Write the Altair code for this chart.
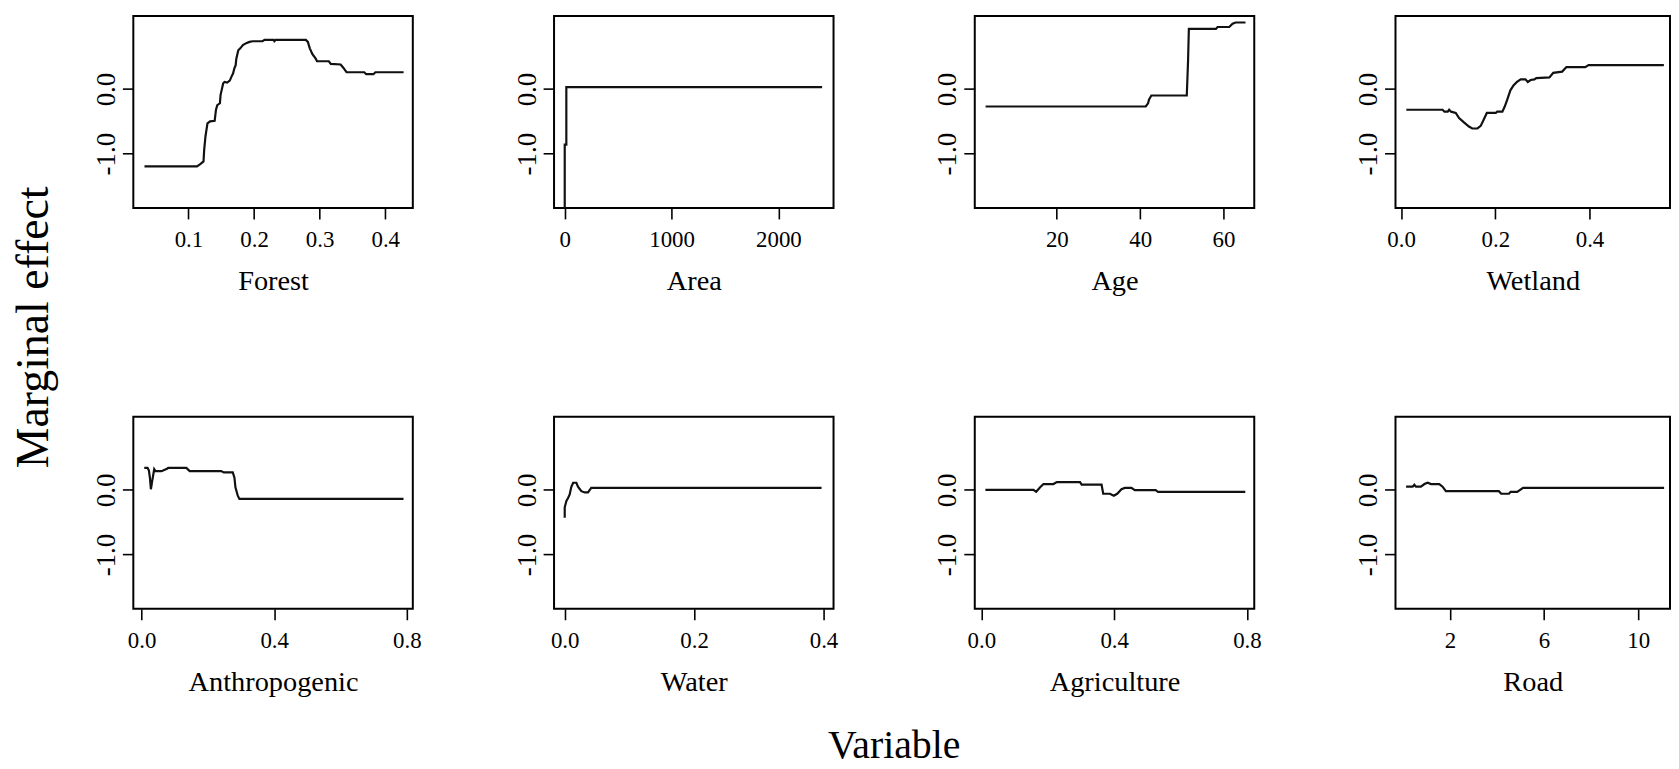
import altair as alt
import pandas as pd

FONT = "Liberation Serif"

# ---------------- data ----------------
forest_x = [0.033, 0.113, 0.118, 0.123, 0.124, 0.126, 0.129, 0.133, 0.140, 0.142, 0.144, 0.148, 0.149,
            0.153, 0.155, 0.159, 0.163, 0.166, 0.168, 0.170, 0.172, 0.173, 0.176, 0.179, 0.183, 0.188,
            0.193, 0.198, 0.213, 0.216, 0.230, 0.231, 0.233, 0.279, 0.282, 0.285, 0.289, 0.294, 0.296,
            0.314, 0.317, 0.332, 0.336, 0.341, 0.368, 0.371, 0.382, 0.385, 0.428]
forest_y = [-1.195, -1.195, -1.16, -1.12, -0.94, -0.73, -0.53, -0.50, -0.49, -0.32, -0.25, -0.22, -0.09,
            0.09, 0.11, 0.10, 0.13, 0.20, 0.24, 0.32, 0.37, 0.47, 0.60, 0.63, 0.68, 0.71,
            0.73, 0.74, 0.74, 0.76, 0.76, 0.74, 0.76, 0.76, 0.73, 0.63, 0.54, 0.47, 0.43,
            0.43, 0.39, 0.38, 0.33, 0.26, 0.26, 0.23, 0.23, 0.26, 0.26]

area_x = [0, 0, 15, 15, 2409]
area_y = [-2.5, -0.86, -0.86, 0.03, 0.03]

age_x = [2.9, 41.35, 41.9, 42.15, 42.7, 51.2, 51.5, 51.7, 58.2, 58.6, 61.4, 62.2, 62.9, 65.3]
age_y = [-0.27, -0.27, -0.22, -0.16, -0.10, -0.10, 0.42, 0.93, 0.93, 0.96, 0.96, 1.01, 1.03, 1.03]

wetland_x = [0.011, 0.088, 0.092, 0.099, 0.102, 0.106, 0.116, 0.123, 0.134, 0.144, 0.151, 0.162,
             0.169, 0.175, 0.182, 0.201, 0.204, 0.215, 0.220, 0.225, 0.232, 0.239, 0.246, 0.254,
             0.264, 0.269, 0.275, 0.283, 0.287, 0.315, 0.323, 0.342, 0.351, 0.391, 0.398, 0.558]
wetland_y = [-0.32, -0.32, -0.35, -0.35, -0.32, -0.35, -0.37, -0.45, -0.52, -0.58, -0.61, -0.61,
             -0.57, -0.48, -0.37, -0.37, -0.35, -0.35, -0.27, -0.17, -0.02, 0.06, 0.11, 0.15,
             0.15, 0.11, 0.14, 0.15, 0.17, 0.18, 0.25, 0.27, 0.34, 0.34, 0.37, 0.37]

anthro_x = [0.008, 0.018, 0.022, 0.025, 0.028, 0.032, 0.038, 0.042, 0.06, 0.078, 0.08, 0.135, 0.145,
            0.24, 0.248, 0.275, 0.28, 0.283, 0.29, 0.295, 0.79]
anthro_y = [0.34, 0.34, 0.30, 0.19, 0.01, 0.14, 0.32, 0.29, 0.29, 0.33, 0.34, 0.34, 0.29,
            0.29, 0.27, 0.27, 0.19, 0.04, -0.09, -0.14, -0.14]

water_x = [0.0, 0.0, 0.0026, 0.005, 0.0077, 0.010, 0.013, 0.018, 0.0205, 0.0256, 0.031, 0.036, 0.041, 0.397]
water_y = [-0.43, -0.27, -0.17, -0.13, -0.07, 0.04, 0.11, 0.11, 0.05, -0.02, -0.04, -0.04, 0.03, 0.03]

agri_x = [0.012, 0.157, 0.165, 0.177, 0.187, 0.217, 0.227, 0.297, 0.302, 0.362, 0.367, 0.387, 0.399,
          0.409, 0.422, 0.432, 0.452, 0.462, 0.525, 0.532, 0.795]
agri_y = [0.0, 0.0, -0.03, 0.04, 0.09, 0.09, 0.12, 0.12, 0.08, 0.08, -0.06, -0.06, -0.09,
          -0.06, 0.01, 0.03, 0.03, -0.005, -0.005, -0.03, -0.03]

road_x = [0.14, 0.42, 0.49, 0.56, 0.77, 0.92, 1.06, 1.20, 1.55, 1.69, 1.83, 4.08, 4.18, 4.51, 4.58,
          4.86, 5.11, 11.1]
road_y = [0.05, 0.05, 0.08, 0.05, 0.05, 0.09, 0.11, 0.09, 0.09, 0.05, -0.02, -0.02, -0.06, -0.06,
          -0.03, -0.03, 0.03, 0.03]

names = ["Forest", "Area", "Age", "Wetland", "Anthropogenic", "Water", "Agriculture", "Road"]
xs = [forest_x, area_x, age_x, wetland_x, anthro_x, water_x, agri_x, road_x]
ys = [forest_y, area_y, age_y, wetland_y, anthro_y, water_y, agri_y, road_y]
x_domains = [[0.016, 0.442], [-100, 2516], [0.3, 67.4], [-0.012, 0.571],
             [-0.025, 0.818], [-0.0165, 0.4155], [-0.02, 0.822], [-0.31, 11.35]]
x_ticks = [[0.1, 0.2, 0.3, 0.4], [0, 1000, 2000], [20, 40, 60], [0.0, 0.2, 0.4],
           [0.0, 0.4, 0.8], [0.0, 0.2, 0.4], [0.0, 0.4, 0.8], [2, 6, 10]]
x_formats = [".1f", "d", "d", ".1f", ".1f", ".1f", ".1f", "d"]
y_ticks = [-1.0, 0.0]
y_domain = [-1.84, 1.13]

y_title = "Marginal effect"
x_title = "Variable"

PW, PH = 281, 193
LAST_W = 276


def panel(i):
    df = pd.DataFrame({"x": xs[i], "y": ys[i], "o": list(range(len(xs[i])))})
    line = alt.Chart(df).mark_line(color="#111111", strokeWidth=2.2, clip=True).encode(
        x=alt.X("x:Q",
                scale=alt.Scale(domain=x_domains[i], nice=False, zero=False),
                axis=alt.Axis(values=x_ticks[i], format=x_formats[i], title=names[i])),
        y=alt.Y("y:Q",
                scale=alt.Scale(domain=y_domain, nice=False, zero=False),
                axis=alt.Axis(values=y_ticks, title=None,
                              labelExpr="datum.value < 0 ? '-' + format(-datum.value, '.1f') : format(datum.value, '.1f')",
                              labelAngle=270, labelAlign="center", labelBaseline="bottom",
                              labelPadding=2, labelFontSize=27)),
        order="o:Q",
    )
    w = LAST_W if i % 4 == 3 else PW
    if i == 0:
        anchor = alt.Chart(pd.DataFrame({"a": [0]})).mark_rule(color="white", strokeWidth=1).encode(
            x=alt.value(-124), x2=alt.value(-123), y=alt.value(-4))
        ylab = alt.Chart(pd.DataFrame({"t": [y_title]})).mark_text(
            font=FONT, fontSize=46, angle=270, align="center", baseline="middle", color="black"
        ).encode(text="t:N", x=alt.value(-100), y=alt.value(313))
        xlab = alt.Chart(pd.DataFrame({"t": [x_title]})).mark_text(
            font=FONT, fontSize=40, align="center", baseline="alphabetic", color="black"
        ).encode(text="t:N", x=alt.value(765), y=alt.value(746))
        return alt.layer(line, anchor, ylab, xlab).properties(width=w, height=PH)
    return line.properties(width=w, height=PH)


row1 = alt.hconcat(*[panel(i) for i in range(4)], spacing=142, bounds="flush")
row2 = alt.hconcat(*[panel(i) for i in range(4, 8)], spacing=142, bounds="flush")

# with flush bounds the nested rows count as zero-height, so spacing = row offset
chart = alt.vconcat(row1, row2, spacing=403, bounds="flush").properties(
    padding=0, background="white"
).configure_view(
    stroke="black", strokeWidth=2
).configure_axis(
    domain=False, grid=False,
    ticks=True, tickSize=11, tickWidth=1.6, tickColor="black",
    labelFont=FONT, labelFontSize=23, labelColor="black", labelFlush=False,
    titleFont=FONT, titleFontSize=28.5, titleFontWeight="normal", titleColor="black",
).configure_axisX(
    labelPadding=10, titleY=82, titleBaseline="alphabetic",
)

chart.save("out.html", embed_options={"renderer": "svg", "actions": False})
